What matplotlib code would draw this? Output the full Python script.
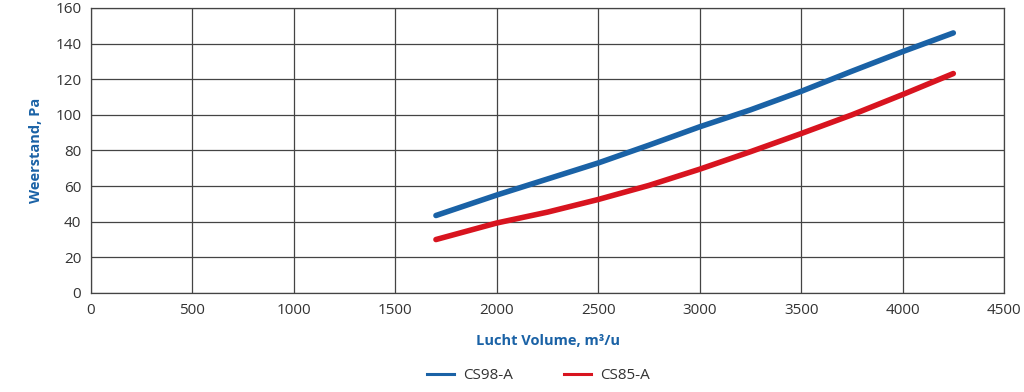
import numpy as np
import matplotlib.pyplot as plt
from matplotlib.lines import Line2D

# data
volume = [1700, 2000, 2250, 2500, 2750, 3000, 3250, 3500, 3750, 4000, 4250]
cs98 = [43.5, 55, 64, 73, 83, 93.3, 102.8, 113.2, 124.5, 135.5, 146]
cs85 = [30, 39.3, 45.4, 52.5, 60.4, 69.5, 79.3, 89.5, 100, 111.4, 123.2]
labels = ['CS98-A', 'CS85-A']
colors = ['#1a62a6', '#d8141f']

plt.rcParams['font.family'] = ['Open Sans', 'DejaVu Sans']

fig = plt.figure(figsize=(10.24, 3.92), dpi=100)
ax = fig.add_axes([0.0889, 0.2526, 0.8916, 0.727])

ax.plot(volume, cs98, color=colors[0], lw=4, solid_capstyle='round', solid_joinstyle='round')
ax.plot(volume, cs85, color=colors[1], lw=4, solid_capstyle='round', solid_joinstyle='round')

ax.set_xlim(0, 4500)
ax.set_ylim(0, 160)
ax.set_xticks(np.arange(0, 4501, 500))
ax.set_yticks(np.arange(0, 161, 20))
ax.grid(True, color='#444444', lw=0.9)
ax.set_axisbelow(True)
for s in ax.spines.values():
    s.set_color('#444444')
    s.set_linewidth(0.9)
ax.tick_params(length=0, labelsize=11, colors='#333333', pad=7)

ax.set_xlabel('Lucht Volume, m³/u', color='#1a62a6', fontweight='bold', fontsize=10.5, labelpad=12)
ax.set_ylabel('Weerstand, Pa', color='#1a62a6', fontweight='bold', fontsize=10.5, labelpad=9)

handles = [Line2D([], [], color=c, lw=2.2) for c in colors]
fig.legend(handles, labels, loc='lower center', bbox_to_anchor=(0.526, -0.012), ncol=2, frameon=False,
           fontsize=11, handlelength=1.8, handletextpad=0.6, columnspacing=3.3, labelcolor='#333333')

fig.savefig('out.png', dpi=100)
